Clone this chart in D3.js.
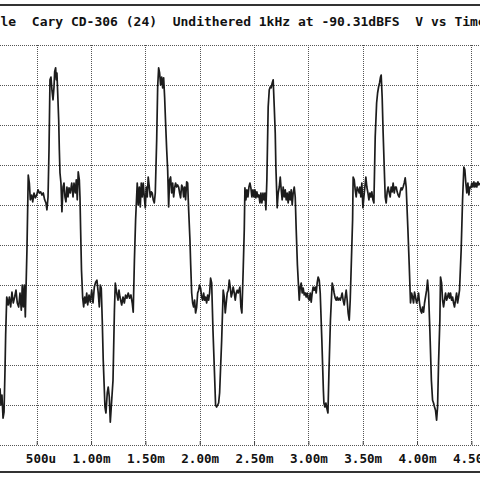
<!DOCTYPE html>
<html>
<head>
<meta charset="utf-8">
<script src="https://cdn.jsdelivr.net/npm/d3@7"></script>
<style>
    html, body { margin: 0; padding: 0; background: #fff; }
    svg text { font-family: "DejaVu Sans Mono", "Liberation Mono", monospace; font-weight: bold; white-space: pre; fill: #111; }
    .grid line { stroke: #555; stroke-width: 1; stroke-dasharray: 1,1; shape-rendering: crispEdges; }
    .trace { fill: none; stroke: #1c1c1c; stroke-width: 1.7; stroke-linejoin: round; }
    .frame-line { stroke: #333; stroke-width: 2; shape-rendering: crispEdges; }
</style>
</head>
<body>
<div id="scope"></div>
<script>
"use strict"

// header + axis text, as printed on the plot
const titleText = "le  Cary CD-306 (24)  Undithered 1kHz at -90.31dBFS  V vs Time"
const timeTicks = [500, 1000, 1500, 2000, 2500, 3000, 3500, 4000, 4500]
const timeLabels = [" 500u", "1.00m", "1.50m", "2.00m", "2.50m", "3.00m", "3.50m", "4.00m", "4.50m"]
const levelTicks = [-50, -40, -30, -20, -10, 0, 10, 20, 30, 40, 50]

// trace: [time (us), level (1/10 division)]
const trace = [
    [162, -35.8], [171, -40], [180, -37.5], [190, -43.3], [199, -41.8], [208, -31.3], [214, -22.5], [224, -13],
    [238, -15], [248, -13], [260, -15.5], [272, -11.8], [284, -14.5], [297, -13], [309, -11.3], [321, -14.5],
    [334, -15.5], [346, -12], [358, -16.3], [367, -10], [376, -15.5], [386, -10], [395, -18], [410, -1.3],
    [422, 17.5], [432, 15.5], [441, 11.3], [454, 12.5], [463, 10.8], [475, 13], [487, 11.8], [500, 12.5],
    [512, 13.8], [524, 13], [536, 13.3], [548, 12.5], [560, 13], [573, 11.3], [585, 10.5], [594, 8.8],
    [604, 12], [613, 23.8], [622, 41.3], [631, 42], [640, 38.8], [650, 36.3], [659, 39.5], [665, 43.3],
    [674, 44.3], [680, 41.3], [686, 43], [693, 38], [702, 31.3], [708, 23.8], [714, 18], [723, 15.5],
    [732, 8.3], [742, 14.5], [751, 15.5], [760, 12], [769, 10.8], [778, 14.5], [788, 12], [797, 14.3],
    [809, 13], [822, 15.5], [834, 12], [843, 15.5], [855, 13], [864, 16.3], [873, 11.3], [882, 18.3],
    [892, 16.3], [898, 12], [904, 3.8], [912, -6.3], [923, -13.3], [932, -15.5], [941, -13], [950, -14.5],
    [960, -12], [969, -15], [981, -12.5], [993, -14.3], [1006, -11.3], [1018, -14.5], [1030, -10.5], [1042, -9.3],
    [1054, -8.8], [1066, -12], [1076, -15.5], [1085, -10], [1094, -10.8], [1103, -18.8], [1112, -28.8], [1128, -40.5],
    [1137, -42], [1149, -37], [1158, -35.5], [1168, -38], [1177, -44.3], [1186, -40.5], [1202, -33.8], [1215, -16.3],
    [1223, -9.5], [1236, -12], [1248, -13.8], [1257, -11.3], [1266, -13], [1282, -15], [1294, -13], [1306, -14.5],
    [1318, -12.5], [1330, -13.3], [1342, -12], [1355, -13.3], [1367, -12.5], [1379, -14.5], [1388, -16.8], [1399, -3.8],
    [1410, 6.3], [1425, 15.5], [1434, 10], [1444, 14.5], [1453, 9.5], [1462, 15.5], [1471, 12], [1480, 15.5],
    [1490, 12], [1499, 9.3], [1508, 14.5], [1517, 12], [1526, 17], [1536, 14.5], [1545, 12], [1554, 13.3],
    [1563, 13], [1572, 11.3], [1582, 10.5], [1591, 13], [1604, 26.3], [1613, 39.5], [1622, 44.3], [1631, 43],
    [1640, 40], [1650, 42], [1659, 39.3], [1668, 41.8], [1677, 37], [1686, 30.5], [1696, 23.8], [1705, 18.8],
    [1714, 9.5], [1723, 16.3], [1732, 17], [1742, 13], [1751, 15.5], [1760, 12], [1769, 14.3], [1778, 15.5],
    [1788, 14.5], [1797, 15], [1806, 14.5], [1815, 13], [1824, 11.8], [1834, 15], [1843, 14.5], [1852, 12],
    [1861, 14.5], [1870, 11.3], [1880, 15.8], [1889, 15.5], [1898, 8.8], [1910, 1.3], [1917, -5], [1926, -12],
    [1935, -14.5], [1944, -15.5], [1953, -13.8], [1962, -17], [1972, -15.5], [1981, -12], [1990, -11.3], [1999, -10],
    [2008, -10.8], [2018, -13], [2027, -13.8], [2036, -12], [2045, -13.8], [2054, -13], [2064, -14.5], [2073, -12.5],
    [2082, -13.8], [2091, -12], [2100, -8.3], [2110, -9.5], [2122, -21.3], [2135, -31.3], [2146, -40], [2156, -40.5],
    [2165, -40], [2174, -39.5], [2183, -37], [2202, -23.8], [2216, -11.3], [2226, -13], [2235, -17], [2244, -14.5],
    [2253, -12], [2263, -11.3], [2272, -8.8], [2281, -10.5], [2290, -13], [2299, -12], [2308, -10.5], [2318, -12],
    [2327, -13.8], [2336, -12], [2345, -11.3], [2354, -12], [2370, -10.5], [2379, -15.5], [2388, -17], [2400, -6.3],
    [2410, 3.8], [2416, 14.3], [2425, 11.3], [2434, 13.8], [2444, 12], [2453, 14.5], [2462, 15.5], [2471, 14.3],
    [2480, 12], [2490, 13.8], [2499, 12], [2508, 13.8], [2517, 11.8], [2526, 13.3], [2536, 12], [2545, 12.5],
    [2554, 10.5], [2563, 13], [2572, 10.5], [2582, 13], [2591, 11.3], [2600, 13], [2609, 8.8], [2618, 16.3],
    [2630, 34.5], [2640, 38.8], [2649, 39.5], [2658, 39.3], [2667, 40.5], [2676, 41.3], [2686, 34.5], [2695, 28],
    [2701, 19.5], [2713, 9.3], [2722, 13], [2732, 14.5], [2741, 17], [2750, 13.8], [2759, 11.3], [2768, 14.5],
    [2778, 12], [2787, 13.8], [2796, 11.3], [2805, 13], [2814, 10.5], [2824, 13.3], [2833, 11.3], [2842, 13.8],
    [2851, 10], [2860, 13], [2870, 14.5], [2879, 12], [2888, 3.8], [2899, -5], [2916, -13.8], [2925, -10.5],
    [2934, -9.5], [2943, -12], [2952, -10.8], [2962, -12.5], [2971, -12], [2980, -13], [2989, -12], [2998, -13.3],
    [3008, -13.8], [3017, -12], [3026, -14.3], [3035, -12], [3044, -10.5], [3054, -11.3], [3063, -10.5], [3072, -12],
    [3081, -9.5], [3090, -8], [3100, -8.8], [3109, -12], [3124, -23.8], [3138, -36.3], [3143, -39.5], [3152, -40.5],
    [3161, -39.5], [3170, -40.8], [3180, -42], [3189, -32], [3203, -18.8], [3219, -9.5], [3228, -10.5], [3237, -12],
    [3247, -13.3], [3256, -13.8], [3265, -13], [3274, -13.8], [3284, -13.3], [3293, -13.8], [3302, -13], [3311, -12],
    [3320, -13.8], [3330, -15], [3339, -13], [3348, -11.3], [3357, -13.8], [3366, -17], [3376, -18.8], [3385, -13.8],
    [3396, -3.8], [3407, 6.3], [3412, 17], [3422, 16.3], [3431, 13.8], [3440, 12], [3449, 14.5], [3458, 13.8],
    [3468, 13], [3474, 14.5], [3483, 12], [3492, 15.5], [3502, 9.3], [3511, 12], [3520, 14.5], [3529, 17],
    [3538, 14.5], [3548, 13], [3557, 11.3], [3566, 13], [3575, 12], [3584, 13.3], [3594, 11.3], [3603, 10.5],
    [3615, 27], [3628, 35.5], [3637, 38], [3646, 39.5], [3655, 40.5], [3664, 42], [3670, 42.5], [3679, 37],
    [3688, 28], [3698, 19.5], [3707, 12], [3716, 10.5], [3725, 13.3], [3734, 14.5], [3744, 13], [3753, 12],
    [3762, 14.5], [3771, 13.3], [3780, 15.5], [3790, 13], [3799, 14.5], [3808, 14.5], [3817, 13.3], [3826, 12.5],
    [3836, 12], [3845, 13.3], [3854, 14.3], [3863, 13.8], [3872, 14.5], [3882, 15.5], [3891, 16.8], [3900, 14.5],
    [3916, 3.8], [3928, -5], [3940, -14.5], [3950, -12], [3959, -13], [3968, -14.5], [3977, -11.8], [3986, -13],
    [3996, -14.5], [4005, -13.8], [4014, -12], [4023, -14.5], [4032, -16.3], [4042, -17], [4051, -15.5], [4060, -16.8],
    [4069, -14.5], [4078, -13], [4088, -11.3], [4097, -8.8], [4106, -12], [4118, -21.3], [4132, -33.8], [4143, -38.8],
    [4152, -39.5], [4161, -40.5], [4170, -41.3], [4180, -43.8], [4189, -40.5], [4198, -29.5], [4210, -18.8], [4216, -8],
    [4226, -9.5], [4235, -13.8], [4244, -15.5], [4253, -13.8], [4262, -12], [4272, -13.8], [4281, -13], [4290, -12],
    [4299, -13.3], [4308, -12], [4318, -13.8], [4327, -13], [4336, -14.5], [4345, -15.5], [4354, -13.8], [4364, -12],
    [4373, -14.5], [4382, -13], [4391, -11.3], [4406, -1.3], [4419, 11.3], [4431, 19.5], [4440, 18.8], [4449, 15.5],
    [4458, 13], [4468, 15.5], [4477, 12.5], [4486, 14.5], [4495, 14.3], [4504, 15.5], [4514, 14.5], [4523, 15.8],
    [4532, 14.5], [4541, 15.5], [4550, 14.5], [4560, 15.8], [4569, 15], [4578, 15.5]
]

/*
    analyzer screen, cropped: 0..5ms sweep over 10 divisions,
    left edge of the picture falls a bit after t = 0
*/
const scope = (function() {

    function draw(id, opts = { w: 480, h: 480 }) {
        let chart = Object.assign({ targetId: id }, opts)

        chart.frame = {
            l: 0, r: chart.w,
            topLine: 5, botLine: 472,
            titleBase: 26
        }

        const x = d3.scaleLinear().domain([0, 5000]).range([-17.6, 525.7])
        const y = d3.scaleLinear().domain([-50, 50]).range([445, 45])

        let svg = d3.select(chart.targetId)
                    .append("svg")
                        .attr("width", chart.w)
                        .attr("height", chart.h)
                        .attr("viewBox", `0 0 ${ chart.w } ${ chart.h }`)

        // title strip
        svg.append("line")
            .attr("class", "frame-line")
            .attr("x1", 0).attr("x2", chart.w)
            .attr("y1", chart.frame.topLine).attr("y2", chart.frame.topLine)

        svg.append("text")
            .text(titleText)
            .attr("xml:space", "preserve")
            .attr("x", 0.5)
            .attr("y", chart.frame.titleBase)
            .attr("font-size", 13)

        // dotted grid
        let grid = svg.append("g").attr("class", "grid")
        grid.selectAll(".vgrid")
            .data(timeTicks)
            .enter().append("line")
                .attr("x1", d => Math.round(x(d)) + 0.5).attr("x2", d => Math.round(x(d)) + 0.5)
                .attr("y1", y(50)).attr("y2", y(-50))
        grid.selectAll(".hgrid")
            .data(levelTicks)
            .enter().append("line")
                .attr("x1", chart.frame.l).attr("x2", chart.frame.r)
                .attr("y1", d => Math.round(y(d)) + 0.5).attr("y2", d => Math.round(y(d)) + 0.5)

        // time axis: short ticks up, labels under the bottom grid line
        let axis = svg.append("g")
            .attr("transform", `translate(0, ${ y(-50) })`)
            .call(d3.axisBottom(x)
                    .tickValues(timeTicks)
                    .tickFormat((d, i) => timeLabels[i])
                    .tickSize(-4)
                    .tickPadding(9))
        axis.select(".domain").remove()
        axis.attr("font-family", null).attr("font-size", null)
        axis.selectAll(".tick line").attr("stroke", "#444")
        axis.selectAll(".tick text")
            .attr("xml:space", "preserve")
            .attr("font-size", 12.6)
            .attr("fill", "#111")

        svg.append("line")
            .attr("class", "frame-line")
            .attr("x1", 0).attr("x2", chart.w)
            .attr("y1", chart.frame.botLine).attr("y2", chart.frame.botLine)

        // the trace
        const line = d3.line()
                        .x(d => x(d[0]))
                        .y(d => y(d[1]))
        svg.append("path")
            .datum(trace)
            .attr("class", "trace")
            .attr("d", line)
    }

    return {
        draw: draw
    }

}())

scope.draw("#scope")
</script>
</body>
</html>
